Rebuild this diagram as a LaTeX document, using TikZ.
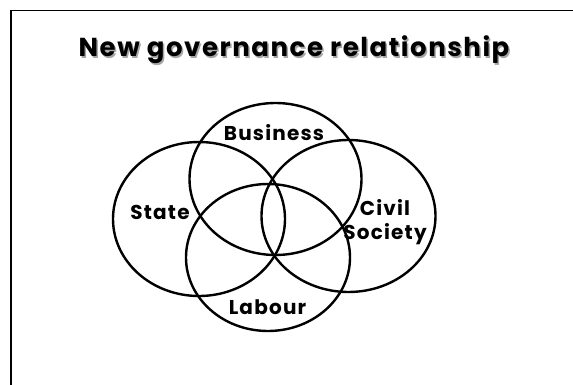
\documentclass[tikz,border=0pt]{standalone}
\usepackage{fontspec}
\setmainfont{Poppins}
\newfontfamily\slidefont[LetterSpace=6]{Poppins}
\usepackage{tikz}
\usetikzlibrary{calc}
\tikzset{ring/.style={line width=2.4pt, draw=black},
label/.style={font=\slidefont\bfseries\fontsize{20}{24}\selectfont, align=center, inner sep=0pt},
heading/.style={font=\slidefont\bfseries\fontsize{26}{30}\selectfont, inner sep=0pt}}

\begin{document}
\begin{tikzpicture}[x=1pt, y=-1pt]
 \useasboundingbox (0,0) rectangle (573,385);
 %Drawing slide frame
 \draw[line width=1.5pt] (11,390) -- (11,10.5) -- (580,10.5);

 %Drawing title with its shadow
 \node[heading, text=black!35] (titleshadow) at (295.5,51.5) {New governance relationship};
 \node[heading] (title) at (294,50) {New governance relationship};

 %Drawing the four sets
 \coordinate (state) at (199,219);
 \coordinate (business) at (275.5,179);
 \coordinate (civil) at (348.5,216);
 \coordinate (labour) at (268,257.5);
 \draw[ring] (state) ellipse [x radius=86, y radius=77];
 \draw[ring] (business) ellipse [x radius=86, y radius=76];
 \draw[ring] (civil) ellipse [x radius=87, y radius=76];
 \draw[ring] (labour) ellipse [x radius=82, y radius=73.5];

 %Labels of the sets
 \node[label] (statelabel) at (160,212.5) {State};
 \node[label] (businesslabel) at (274,133) {Business};
 \node[label] (civillabel) at (385,222) {Civil\\Society};
 \node[label] (labourlabel) at (267.5,307.5) {Labour};
\end{tikzpicture}
\end{document}
